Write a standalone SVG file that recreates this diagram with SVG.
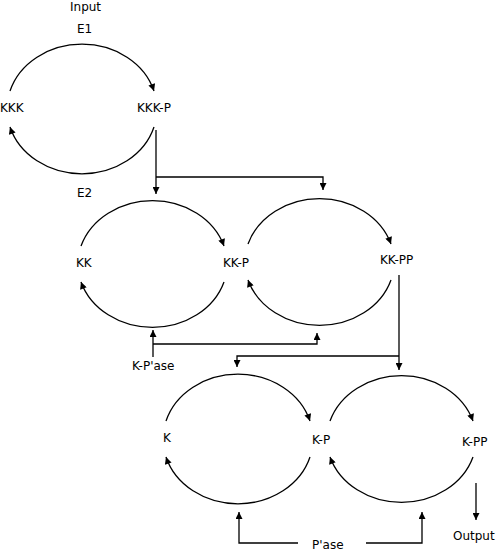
<svg xmlns="http://www.w3.org/2000/svg" width="498" height="551" viewBox="0 0 498 551">
<style>
text{font-family:"DejaVu Sans","Liberation Sans",sans-serif;font-size:12px;fill:#000}
.c{fill:none;stroke:#000;stroke-width:1.3;marker-end:url(#ah)}
</style>
<defs>
<marker id="ah" viewBox="0 0 10 10" refX="10" refY="5" markerWidth="8" markerHeight="7" markerUnits="userSpaceOnUse" orient="auto"><path d="M0,0 L10,5 L0,10 z" fill="#000"/></marker>
</defs>
<rect width="498" height="551" fill="#fff"/>
<g id="cycle-kkk">
<path class="c" d="M10,91 A75,65 0 0 1 154,91"/>
<path class="c" d="M154,127 A75,65 0 0 1 10,127"/>
</g>
<g id="cycle-kk1">
<path class="c" d="M81,246 A75,65 0 0 1 224,246"/>
<path class="c" d="M224,282 A75,65 0 0 1 81,282"/>
</g>
<g id="cycle-kk2">
<path class="c" d="M248,244 A75,65 0 0 1 391,244"/>
<path class="c" d="M391,280 A75,65 0 0 1 248,280"/>
</g>
<g id="cycle-k1">
<path class="c" d="M166,421 A75,65 0 0 1 310,421"/>
<path class="c" d="M310,457 A75,65 0 0 1 166,457"/>
</g>
<g id="cycle-k2">
<path class="c" d="M330,421 A75,65 0 0 1 473,421"/>
<path class="c" d="M473,457 A75,65 0 0 1 330,457"/>
</g>
<g id="connectors">
<path class="c" d="M156,130 V194"/>
<path class="c" d="M156,177 H323 V190"/>
<path class="c" d="M153,357 V330"/>
<path class="c" d="M153,344 H317 V333"/>
<path class="c" d="M399,275 V370"/>
<path class="c" d="M399,356 H237 V367"/>
<path class="c" d="M476,483 V520"/>
<path class="c" d="M298,543 H239 V512"/>
<path class="c" d="M366,543 H422 V512"/>
</g>
<g id="n-input"><text x="70" y="11">Input</text></g>
<g id="n-e1"><text x="77" y="33">E1</text></g>
<g id="n-kkk"><text x="0" y="112">KKK</text></g>
<g id="n-kkkp"><text x="137" y="112">KKK-P</text></g>
<g id="n-e2"><text x="77" y="197">E2</text></g>
<g id="n-kk"><text x="76" y="267">KK</text></g>
<g id="n-kkp"><text x="223" y="267">KK-P</text></g>
<g id="n-kkpp"><text x="380" y="264">KK-PP</text></g>
<g id="n-kpase"><text x="132" y="370">K-P'ase</text></g>
<g id="n-k"><text x="163" y="442">K</text></g>
<g id="n-kp"><text x="312" y="444">K-P</text></g>
<g id="n-kpp"><text x="462" y="446">K-PP</text></g>
<g id="n-output"><text x="453" y="540">Output</text></g>
<g id="n-pase"><text x="312" y="549">P'ase</text></g>
</svg>
